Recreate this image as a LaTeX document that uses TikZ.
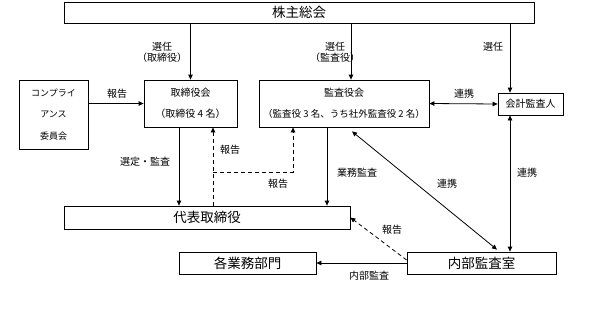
\documentclass[tikz,border=0pt]{standalone}
\usepackage{fontspec}
\setmainfont{Noto Sans CJK JP}
\usetikzlibrary{arrows.meta,calc}

\begin{document}
\begin{tikzpicture}[x=1pt,y=-1pt,
  font=\fontsize{10}{11}\selectfont,
  box/.style={draw,line width=0.8pt,align=center,inner sep=2pt},
  big/.style={box,font=\fontsize{13.5}{15}\selectfont},
  lbl/.style={align=center,inner sep=1pt},
  a/.style={-{Triangle[length=5pt,width=4.5pt]},line width=0.8pt},
  aa/.style={{Triangle[length=5pt,width=4.5pt]}-{Triangle[length=5pt,width=4.5pt]},line width=0.8pt},
  dsh/.style={a,dash pattern=on 4pt off 3pt}]
\useasboundingbox (0,0) rectangle (595,309);
\node[big,minimum width=470pt,minimum height=21pt] (top) at (299,12.5) {株主総会};
\node[box,minimum width=69pt,minimum height=69pt,font=\fontsize{9}{21.5}\selectfont] (comp) at (53.5,114.5) {コンプライ\\アンス\\委員会};
\node[box,minimum width=93pt,minimum height=47pt,font=\fontsize{10}{21}\selectfont] (bod) at (190.5,103.5) {取締役会\\（取締役 4 名）};
\node[box,minimum width=170pt,minimum height=47pt,font=\fontsize{9.5}{21}\selectfont] (kansa) at (344,103.5) {\fontsize{10}{21}\selectfont 監査役会\\（監査役 3 名、うち社外監査役 2 名）};
\node[box,minimum width=65pt,minimum height=22pt] (auditor) at (530.5,104) {会計監査人};
\node[big,minimum width=286pt,minimum height=23pt] (rep) at (207,217.5) {代表取締役};
\node[big,minimum width=137pt,minimum height=22pt] (depts) at (247.5,263) {各業務部門};
\node[big,minimum width=149pt,minimum height=22pt] (internal) at (481.5,263) {内部監査室};

\coordinate (j) at (213,172);
\coordinate (k) at (293,172);

\draw[a] (top.south -| bod.north) -- (bod.north);
\draw[a] ([xshift=7pt]kansa.north |- top.south) -- ([xshift=7pt]kansa.north);
\draw[a] ([xshift=-20.5pt]auditor.north |- top.south) -- ([xshift=-20.5pt]auditor.north);
\draw[a] (comp.east |- bod.west) -- (bod.west);
\draw[aa] (kansa.east) -- (auditor.west);
\draw[a] ([xshift=-11.5pt]bod.south) -- ([xshift=-11.5pt]bod.south |- rep.north);
\draw[dsh] (j |- rep.north) -- (j |- bod.south);
\draw[dsh] (j) -- (k) -- (k |- kansa.south);
\draw[a] ([xshift=-17pt]kansa.south) -- ([xshift=-17pt]kansa.south |- rep.north);
\draw[aa] ([xshift=8pt,yshift=-4pt]kansa.south) -- ([xshift=15.5pt,yshift=2pt]internal.north);
\draw[aa] ([xshift=-20.5pt]auditor.south) -- ([xshift=-20.5pt]auditor.south |- internal.north);
\draw[dsh] ([yshift=3pt]internal.west) -- (rep.east);
\draw[a] (internal.west) -- (internal.west -| depts.east);

\node[lbl] (selbod) at (162,52.5) {選任\\（取締役）};
\node[lbl] (selkan) at (335,52.5) {選任\\（監査役）};
\node[lbl] (selaud) at (493,47) {選任};
\node[lbl] (rcomp) at (117,94) {報告};
\node[lbl] (rkaud) at (464,94) {連携};
\node[lbl] (selrep) at (145,162) {選定・監査};
\node[lbl] (rbod) at (230,150) {報告};
\node[lbl] (rkan) at (278,184) {報告};
\node[lbl] (gyomu) at (357,173) {業務監査};
\node[lbl] (rdiag) at (447,184) {連携};
\node[lbl] (raudint) at (527,173) {連携};
\node[lbl] (rint) at (392,230) {報告};
\node[lbl] (naibu) at (369,276) {内部監査};
\end{tikzpicture}
\end{document}
